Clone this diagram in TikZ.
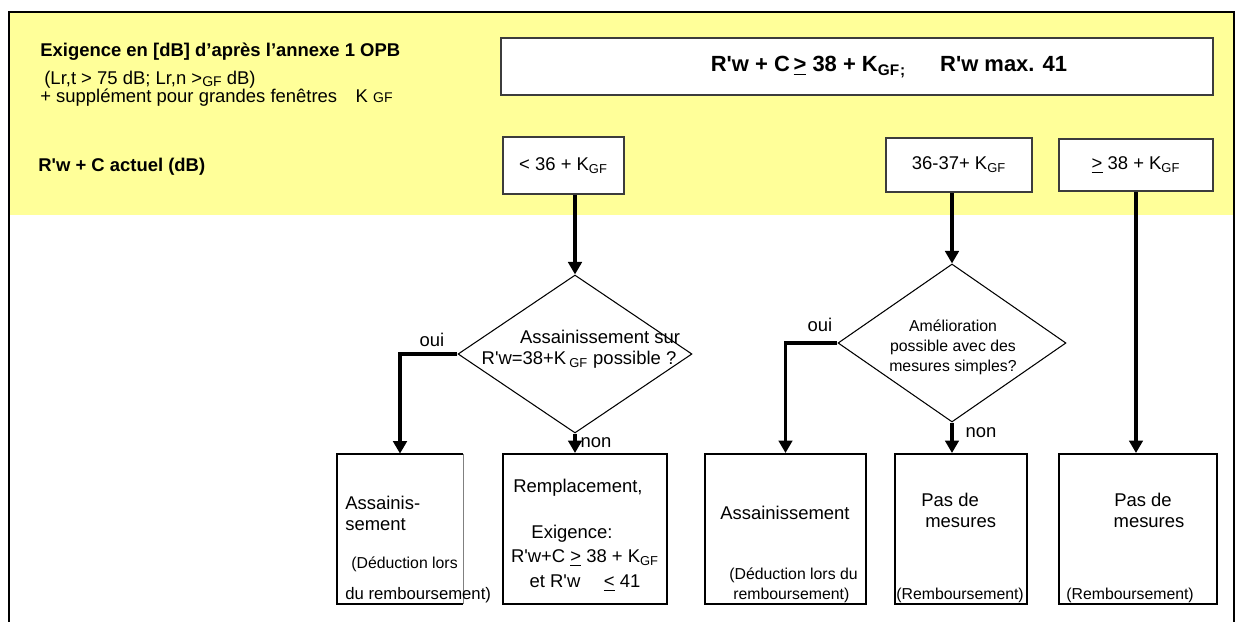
\documentclass[tikz,border=0pt]{standalone}
\usepackage{fontspec}
\setmainfont{Liberation Sans}
\usetikzlibrary{shapes.geometric,arrows.meta}
\definecolor{paleyellow}{RGB}{255,255,153}
\definecolor{boxgray}{RGB}{60,60,60}
\newlength\px
\setlength\px{0.02cm}
\newcommand{\geul}{\underline{>}}
\newcommand{\leul}{\underline{<}}
\newcommand{\kgf}{K\textsubscript{GF}}
\newcommand{\Rw}{R\textquotesingle w}
\tikzset{%
    bx/.style 2 args={draw, fill=white, line width=1.1pt, inner sep=0pt,
        minimum width=#1\px, minimum height=#2\px},
    lvl/.style 2 args={draw=boxgray, fill=white, line width=0.9pt, inner sep=0pt,
        minimum width=#1\px, minimum height=#2\px, font=\fontsize{10.5}{12}\selectfont},
    dec/.style={draw, diamond, fill=white, line width=0.6pt, inner sep=0pt, aspect=1.48},
    arr/.style={line width=1.8pt, -{Triangle[width=0.27cm,length=0.25cm]}},
    txt/.style={inner sep=0pt, font=\fontsize{10.5}{12.6}\selectfont},
    sml/.style={inner sep=0pt, font=\fontsize{9}{11}\selectfont},
}
\begin{document}
\begin{tikzpicture}[x=0.02cm, y=-0.02cm]
    \useasboundingbox (0,0) rectangle (1242,622);
    \fill[paleyellow] (9,12) rectangle (1234,215);
    \draw[line width=1.4pt] (9,622) -- (9,12) -- (1234,12) -- (1234,622);

    \node[txt, anchor=west, font=\fontsize{10.5}{12.6}\selectfont\bfseries] (hdr) at (40,52) {Exigence en [dB] d’après l’annexe 1 OPB};
    \node[txt, anchor=west] (hdra) at (44,80) {(Lr,t > 75 dB; Lr,n >\raisebox{-0.8pt}{\footnotesize GF} dB)};
    \node[txt, anchor=west] (hdrb) at (40,98) {+ supplément pour grandes fenêtres\quad K {\footnotesize GF}};
    \node[txt, anchor=west, font=\fontsize{10.5}{12.6}\selectfont\bfseries] (act) at (38,167) {\Rw{} + C actuel (dB)};

    \node[draw=boxgray, fill=white, line width=1.1pt, minimum width=712\px, minimum height=57\px] (req) at (857,66.5) {};
    \node[txt, font=\fontsize{12.5}{15}\selectfont\bfseries] (reqt) at (889,67) {\Rw{} + C\,\geul{} 38 + \kgf\textsubscript{;}\quad\ \ \Rw{} max. 41};

    \node[lvl={121}{57}] (lo) at (563.5,165.5) {< 36 + \kgf};
    \node[lvl={146}{54}] (mid) at (959,165) {36-37+ \kgf};
    \node[lvl={154}{52}] (hi) at (1136,165) {\geul{} 38 + \kgf};

    \node[dec, minimum width=234\px, minimum height=158\px] (d1) at (575,354) {};
    \node[txt] (d1a) at (600,337) {Assainissement sur};
    \node[txt] (d1b) at (579,360) {\Rw=38+K\,\textsubscript{GF} possible ?};
    \node[dec, minimum width=228\px, minimum height=158\px] (d2) at (952,343) {};
    \node[sml, align=center, font=\fontsize{9}{11.4}\selectfont] (d2t) at (953,347) {Amélioration\\possible avec des\\mesures simples?};

    \node[inner sep=0pt, fill=white, minimum width=126\px, minimum height=150\px] (ba) at (400,529) {};
    \draw[line width=1.1pt] (ba.north east) -- (ba.north west) -- (ba.south west) -- (ba.south east);
    \draw[line width=0.6pt, gray] (ba.north east) -- (ba.south east);
    \node[bx={164}{150}] (bb) at (585,529) {};
    \node[bx={161}{150}] (bc) at (785.5,529) {};
    \node[bx={132}{150}] (bd) at (961,529) {};
    \node[bx={158}{150}] (be) at (1138,529) {};

    \draw[arr] (lo.south -| d1.north) -- (d1.north);
    \draw[arr] (mid.south -| d2.north) -- (d2.north);
    \draw[arr] (hi.south) -- (hi.south |- be.north);
    \draw[arr] (d1.west) -| (ba.north);
    \draw[arr] (d1.south) -- (d1.south |- bb.north);
    \draw[arr] (d2.west) -| (bc.north);
    \draw[arr] (d2.south) -- (d2.south |- bd.north);

    \node[txt] (oui1) at (432,340) {oui};
    \node[txt] (non1) at (596,443) {non};
    \node[txt] (oui2) at (820,325) {oui};
    \node[txt] (non2) at (981,433) {non};

    \node[txt, anchor=west] (baa) at (345,503) {Assainis-};
    \node[txt, anchor=west] (bab) at (345,525) {sement};
    \node[sml, anchor=west] (bac) at (351,564) {(Déduction lors};
    \node[sml, anchor=west, font=\fontsize{9.5}{11}\selectfont] (bad) at (345,595) {du remboursement)};

    \node[txt, anchor=west] (bba) at (513,488) {Remplacement,};
    \node[txt] (bbb) at (572,534) {Exigence:};
    \node[txt] (bbc) at (585,558) {\Rw+C \geul{} 38 + \kgf};
    \node[txt] (bbd) at (585,583) {et \Rw\quad\ \leul{} 41};

    \node[txt, anchor=west] (bca) at (720,513) {Assainissement};
    \node[sml, anchor=west] (bcb) at (729,575) {(Déduction lors du};
    \node[sml, anchor=west] (bcc) at (733,595) {remboursement)};

    \node[txt, anchor=west] (bda) at (921,500) {Pas de};
    \node[txt, anchor=west] (bdb) at (925,523) {mesures};
    \node[sml, anchor=west] (bdc) at (896,595) {(Remboursement)};

    \node[txt] (bea) at (1143,500) {Pas de};
    \node[txt] (beb) at (1149,523) {mesures};
    \node[sml, anchor=west] (bec) at (1066,595) {(Remboursement)};
\end{tikzpicture}
\end{document}
